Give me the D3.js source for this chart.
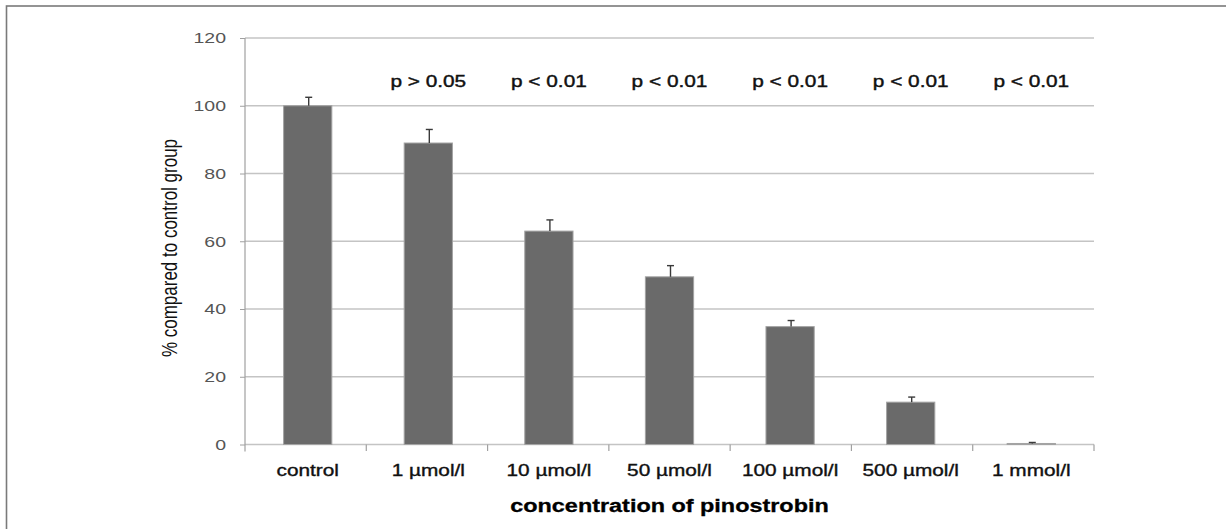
<!DOCTYPE html>
<html>
<head>
<meta charset="utf-8">
<script src="https://cdn.jsdelivr.net/npm/d3@7"></script>
<style>
  html, body { margin: 0; padding: 0; background: #fff; }
  svg { display: block; }
  text { font-family: "Liberation Sans", Arial, sans-serif; }
</style>
</head>
<body>
<svg id="chart" width="1226" height="529"></svg>
<script>
// ---- data ----
const categories = ["control", "1 µmol/l", "10 µmol/l", "50 µmol/l", "100 µmol/l", "500 µmol/l", "1 mmol/l"];
const values = [100, 89, 63, 49.5, 34.8, 12.5, 0.3];
const errors = [2.5, 4, 3.3, 3.3, 1.8, 1.5, 0.3];
const pLabels = ["", "p > 0.05", "p < 0.01", "p < 0.01", "p < 0.01", "p < 0.01", "p < 0.01"];
const yTicks = [0, 20, 40, 60, 80, 100, 120];
const yTitle = "% compared to control group";
const xTitle = "concentration of pinostrobin";

// ---- layout ----
const plot = { left: 245, right: 1094, top: 38, bottom: 444.5 };
const STRETCH = 1.3; // horizontal stretch of the source image's lettering

const svg = d3.select("#chart");

// outer frame (right/bottom edges fall outside the picture)
svg.append("rect")
  .attr("x", 6.5).attr("y", 6)
  .attr("width", 1400).attr("height", 1000)
  .attr("fill", "none").attr("stroke", "#7a7a7a").attr("stroke-width", 1.6);

const x = d3.scaleBand()
  .domain(categories)
  .range([plot.left, plot.right])
  .paddingInner(0.6)
  .paddingOuter(0.32);

const y = d3.scaleLinear()
  .domain([0, 120])
  .range([plot.bottom, plot.top]);

// gridlines
svg.append("g")
  .selectAll("line")
  .data(yTicks)
  .join("line")
  .attr("x1", plot.left).attr("x2", plot.right)
  .attr("y1", d => y(d)).attr("y2", d => y(d))
  .attr("stroke", "#c4c4c4").attr("stroke-width", 1.3);

// y axis
const yAxis = svg.append("g")
  .attr("transform", `translate(${plot.left},0)`)
  .call(d3.axisLeft(y).tickValues(yTicks).tickSize(5).tickPadding(14));
yAxis.select(".domain").attr("stroke", "#a0a0a0").attr("stroke-width", 1.2)
  .attr("d", `M0,${plot.top}V${plot.bottom + 7}`);
yAxis.selectAll(".tick line").attr("stroke", "#a0a0a0");
yAxis.selectAll(".tick text")
  .attr("fill", "#555").attr("font-size", 15)
  .style("font-family", "'Liberation Sans', Arial, sans-serif");

// x axis ticks at category boundaries
svg.append("g")
  .selectAll("line")
  .data(d3.range(1, categories.length + 1))
  .join("line")
  .attr("x1", i => plot.left + i * (plot.right - plot.left) / categories.length)
  .attr("x2", i => plot.left + i * (plot.right - plot.left) / categories.length)
  .attr("y1", plot.bottom).attr("y2", plot.bottom + 6.5)
  .attr("stroke", "#a0a0a0").attr("stroke-width", 1.2);

// bars
svg.append("g")
  .selectAll("rect")
  .data(categories)
  .join("rect")
  .attr("x", d => x(d))
  .attr("width", x.bandwidth())
  .attr("y", (d, i) => y(values[i]))
  .attr("height", (d, i) => y(0) - y(values[i]))
  .attr("fill", "#6a6a6a")
  .attr("stroke", "#a3a3a3").attr("stroke-width", 1);

// error bars (upper only)
const eg = svg.append("g").attr("stroke", "#3a3a3a").attr("stroke-width", 1.4);
eg.selectAll("line.v")
  .data(categories)
  .join("line").attr("class", "v")
  .attr("x1", d => x(d) + x.bandwidth() / 2 + 1)
  .attr("x2", d => x(d) + x.bandwidth() / 2 + 1)
  .attr("y1", (d, i) => y(values[i]))
  .attr("y2", (d, i) => y(values[i] + errors[i]));
eg.selectAll("line.c")
  .data(categories)
  .join("line").attr("class", "c")
  .attr("x1", d => x(d) + x.bandwidth() / 2 + 1 - 3.5)
  .attr("x2", d => x(d) + x.bandwidth() / 2 + 1 + 3.5)
  .attr("y1", (d, i) => y(values[i] + errors[i]))
  .attr("y2", (d, i) => y(values[i] + errors[i]));

// category labels
svg.append("g")
  .selectAll("text")
  .data(categories)
  .join("text")
  .attr("class", "stretch")
  .attr("x", d => x(d) + x.bandwidth() / 2)
  .attr("y", 476)
  .attr("text-anchor", "middle")
  .attr("font-size", 16)
  .attr("fill", "#111")
  .attr("stroke", "#111").attr("stroke-width", 0.35)
  .text(d => d);

// p-value labels
svg.append("g")
  .selectAll("text")
  .data(categories)
  .join("text")
  .attr("class", "stretch")
  .attr("x", d => x(d) + x.bandwidth() / 2)
  .attr("y", 86.5)
  .attr("text-anchor", "middle")
  .attr("font-size", 16)
  .attr("fill", "#111")
  .attr("stroke", "#111").attr("stroke-width", 0.4)
  .text((d, i) => pLabels[i]);

// x title
svg.append("text")
  .attr("class", "stretch")
  .attr("x", (plot.left + plot.right) / 2)
  .attr("y", 512)
  .attr("text-anchor", "middle")
  .attr("font-size", 18)
  .attr("font-weight", "bold")
  .attr("fill", "#000")
  .attr("stroke", "#000").attr("stroke-width", 0.3)
  .text(xTitle);

// y title (glyphs widened across the reading direction, as in the source)
svg.append("text")
  .attr("transform", `translate(177,248) rotate(-90) scale(1,${STRETCH})`)
  .attr("text-anchor", "middle")
  .attr("font-size", 17)
  .attr("fill", "#111")
  .text(yTitle);

// mimic the horizontally stretched lettering of the source
yAxis.selectAll(".tick text").classed("stretch", true);
svg.selectAll("text.stretch").each(function () {
  const t = this.textContent;
  if (!t) return;
  const len = this.getComputedTextLength();
  d3.select(this).attr("textLength", len * STRETCH).attr("lengthAdjust", "spacingAndGlyphs");
});
</script>
</body>
</html>
